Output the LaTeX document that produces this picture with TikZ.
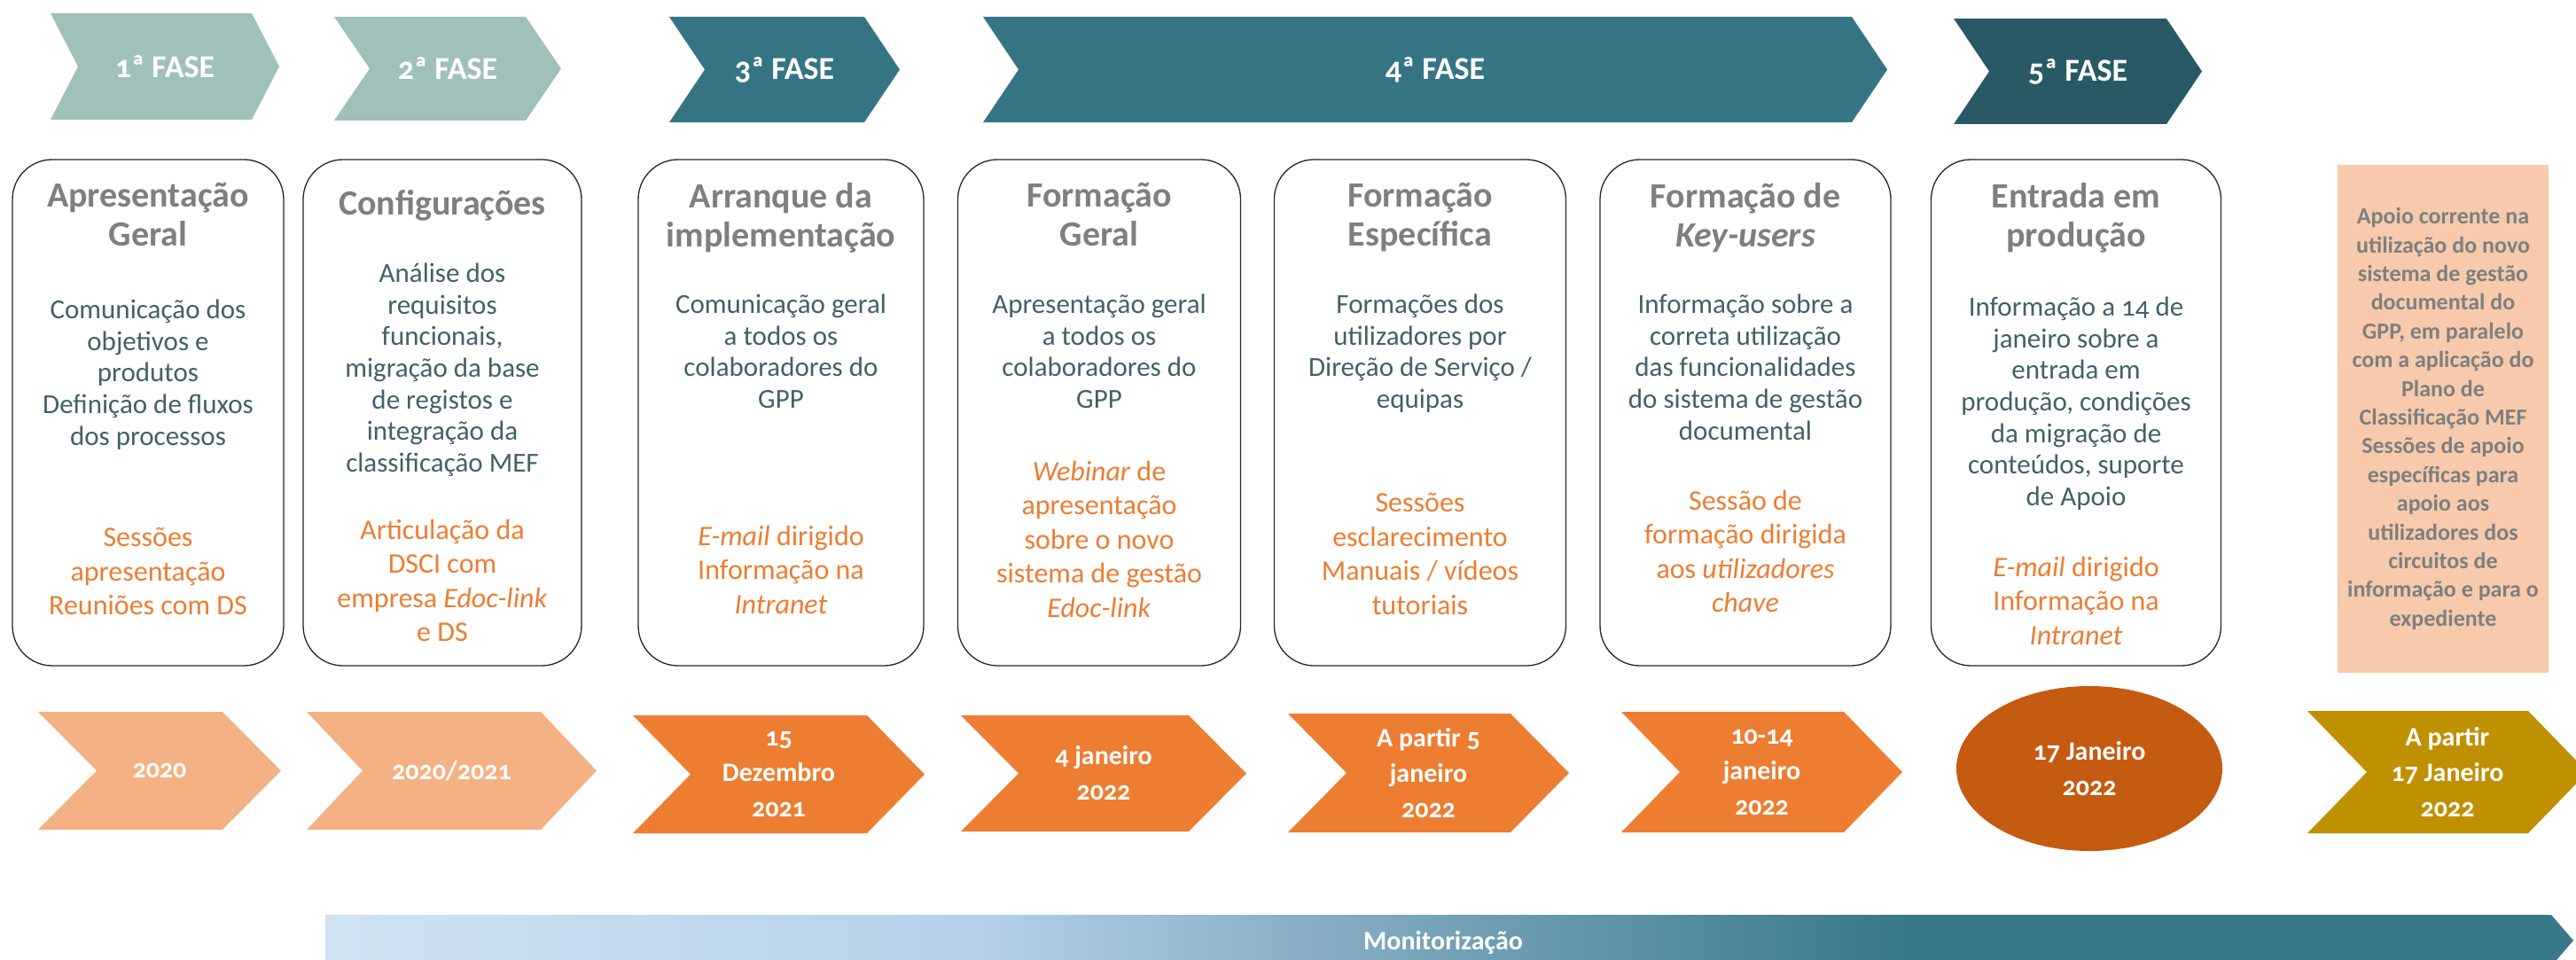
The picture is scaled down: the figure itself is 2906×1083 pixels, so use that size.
\documentclass[tikz,border=0pt]{standalone}
\usepackage{fontspec}
\setmainfont{Carlito}[Numbers=OldStyle]
\usetikzlibrary{shapes.geometric}

\definecolor{faseA}{HTML}{A0C0BA}
\definecolor{faseB}{HTML}{357583}
\definecolor{faseC}{HTML}{295965}
\definecolor{dataA}{HTML}{F4B183}
\definecolor{dataB}{HTML}{ED7D31}
\definecolor{dataC}{HTML}{C55A11}
\definecolor{dataD}{HTML}{BF9000}
\definecolor{titcinza}{HTML}{7F7F7F}
\definecolor{corpo}{HTML}{3F6268}
\definecolor{laranja}{HTML}{ED7D31}
\definecolor{apoio}{HTML}{F7CAAC}
\definecolor{m1}{HTML}{D0E2F2}
\definecolor{m2}{HTML}{B5D1EA}
\definecolor{m3}{HTML}{8AB0C8}
\definecolor{m4}{HTML}{37788A}
\pgfdeclarehorizontalshading{monit}{100bp}{color(0bp)=(m1); color(25bp)=(m1);
  color(39.5bp)=(m2); color(46.4bp)=(m3); color(60.2bp)=(m4); color(100bp)=(m4)}

\begin{document}
\begin{tikzpicture}[x=1pt,y=-1pt,
    caixa/.style={draw=black!85,line width=1.3,rounded corners=45,fill=white,minimum height=571,inner sep=0},
    ttl/.style={font=\fontsize{40}{44}\selectfont\bfseries,text=titcinza,align=center,anchor=north,inner sep=0,
      yshift=36,execute at begin node={\rule{0pt}{36pt}}},
    bdy/.style={font=\fontsize{31}{35.6}\selectfont,text=corpo,align=center,anchor=north,inner sep=0,
      yshift=28,execute at begin node={\rule{0pt}{28pt}}},
    acc/.style={font=\fontsize{32}{38.5}\selectfont,text=laranja,align=center,anchor=north,inner sep=0,
      yshift=29,execute at begin node={\rule{0pt}{29pt}}},
    fase/.style={font=\fontsize{36}{40}\selectfont\bfseries,text=white,align=center,inner sep=0},
    data/.style={font=\fontsize{30}{40}\selectfont\bfseries,text=white,align=center,inner sep=0}]

\useasboundingbox (0,0) rectangle (2906,1083);

% fases e datas
\foreach \nm/\xa/\xb/\ya/\yb/\d/\cor/\estilo/\txt in {
    f1/57/315/15/135/31/faseA/fase/{1ª FASE},
    f2/377/633/19/136/40/faseA/fase/{2ª FASE},
    f3/755/1015/19/138/40/faseB/fase/{3ª FASE},
    f4/1109/2129/19/138/40/faseB/fase/{4ª FASE},
    f5/2204/2484/21/140/40/faseC/fase/{5ª FASE},
    d1/43/317/803/936/66/dataA/data/{2020},
    d2/346/673/803/936/63/dataA/data/{2020/2021},
    d3/714/1043/807/940/65/dataB/data/{15\\Dezembro\\2021},
    d4/1084/1406/807/938/65/dataB/data/{4 janeiro\\2022},
    d5/1453/1770/805/939/66/dataB/data/{A partir 5\\janeiro\\2022},
    d6/1829/2146/803/939/66/dataB/data/{10-14\\janeiro\\2022},
    d7/2603/2919/802/940/67/dataD/data/{A partir\\17 Janeiro\\2022}}
{
    \fill[\cor] (\xa,\ya) -- ({\xb-\d},\ya) -- (\xb,{(\ya+\yb)/2}) -- ({\xb-\d},\yb)
        -- (\xa,\yb) -- ({\xa+\d},{(\ya+\yb)/2}) -- cycle;
    \node[\estilo] (\nm) at ({(\xa+\xb)/2},{(\ya+\yb)/2}) {\txt};
}

\node[ellipse,fill=dataC,minimum width=300,minimum height=186,inner sep=0,data] (d6b) at (2357,867) {17 Janeiro\\2022};

% caixas
\foreach \nm/\cx/\w/\by/\oy/\titulo/\corpotxt/\acao in {
    b1/167/306/366/624/{Apresentação\\Geral}/{Comunicação dos\\objetivos e\\produtos\\Definição de fluxos\\dos processos}/{Sessões\\apresentação\\Reuniões com DS},
    b2/499/314/325/615/{Configurações}/{Análise dos\\requisitos\\funcionais,\\migração da base\\de registos e\\integração da\\classificação MEF}/{Articulação da\\DSCI com\\empresa \textit{Edoc-link}\\e DS},
    b3/881/322/360/622/{Arranque da\\implementação}/{Comunicação geral\\a todos os\\colaboradores do\\GPP}/{\textit{E-mail} dirigido\\Informação na\\\textit{Intranet}},
    b4/1240/319/360/549/{Formação\\Geral}/{Apresentação geral\\a todos os\\colaboradores do\\GPP}/{\textit{Webinar} de\\apresentação\\sobre o novo\\sistema de gestão\\\textit{Edoc-link}},
    b5/1602/329/360/585/{Formação\\Específica}/{Formações dos\\utilizadores por\\Direção de Serviço /\\equipas}/{Sessões\\esclarecimento\\Manuais / vídeos\\tutoriais},
    b6/1969/328/360/582/{Formação de\\\textit{Key-users}}/{Informação sobre a\\correta utilização\\das funcionalidades\\do sistema de gestão\\documental}/{Sessão de\\formação dirigida\\aos \textit{utilizadores}\\\textit{chave}},
    b7/2342/327/363/657/{Entrada em\\produção}/{Informação a 14 de\\janeiro sobre a\\entrada em\\produção, condições\\da migração de\\conteúdos, suporte\\de Apoio}/{\textit{E-mail} dirigido\\Informação na\\\textit{Intranet}}}
{
    \node[caixa,minimum width=\w] (\nm) at (\cx,465.5) {};
    \node[ttl] (\nm-t) at (\cx,242) {\titulo};
    \node[bdy] (\nm-c) at (\cx,\by) {\corpotxt};
    \node[acc] (\nm-a) at (\cx,\oy) {\acao};
}

\node[fill=apoio,minimum width=238,minimum height=573,inner sep=0,align=center,text=titcinza,
    font=\fontsize{26}{32.4}\selectfont\bfseries] (ap) at (2756,472.5)
    {Apoio corrente na\\utilização do novo\\sistema de gestão\\documental do\\GPP, em paralelo\\com a aplicação do\\Plano de\\Classificação MEF\\Sessões de apoio\\específicas para\\apoio aos\\utilizadores dos\\circuitos de\\informação e para o\\expediente};

% monitorizacao
\shade[shading=monit] (367,1032) -- (2878,1032) -- (2903,1061) -- (2878,1090) -- (367,1090) -- cycle;
\node[data] (mon) at (1628,1063) {Monitorização};

\end{tikzpicture}
\end{document}
